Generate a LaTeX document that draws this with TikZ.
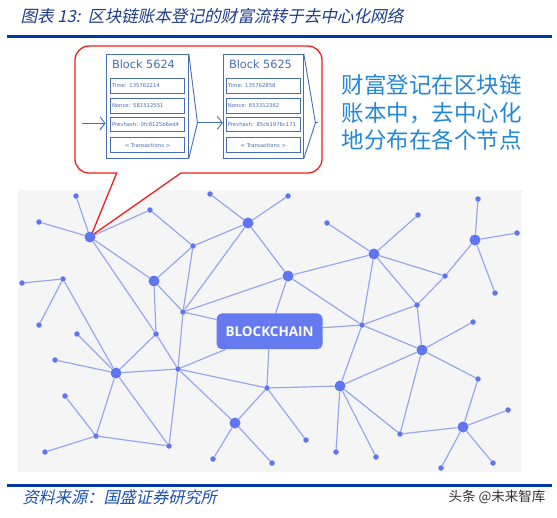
\documentclass[tikz,border=0pt]{standalone}
\usepackage{fontspec}
\usetikzlibrary{arrows.meta}
\newfontfamily\cjk{Noto Sans CJK SC}
\newfontfamily\cjkit[FakeSlant=0.22]{Noto Sans CJK SC}
\newfontfamily\blockfont{DejaVu Sans}
\newfontfamily\chainfont{Open Sans}
\definecolor{title_blue}{RGB}{30, 60, 140}
\definecolor{rule_blue}{RGB}{0, 56, 168}
\definecolor{src_blue}{RGB}{25, 80, 175}
\definecolor{note_blue}{RGB}{35, 135, 215}
\definecolor{blk_blue}{RGB}{70, 110, 180}
\definecolor{net_node}{RGB}{95, 118, 240}
\definecolor{net_edge}{RGB}{152, 166, 240}
\definecolor{chain_fill}{RGB}{100, 122, 238}
\definecolor{call_red}{RGB}{240, 30, 30}
\definecolor{panel_grey}{RGB}{245, 245, 246}
\tikzstyle{bn}=[circle,fill=net_node,inner sep=0pt,minimum size=11pt]
\tikzstyle{sn}=[circle,fill=net_node,inner sep=0pt,minimum size=5.5pt]
\tikzstyle{edge}=[draw=net_edge,line width=1.2pt]
\tikzstyle{blk}=[draw=blk_blue,line width=0.9pt,inner sep=0pt]
\tikzstyle{fld}=[draw=blk_blue,line width=1pt,inner xsep=1.3pt,inner ysep=0pt,
  minimum width=73.6pt,minimum height=15pt,text width=71pt,align=left,
  text=blk_blue,font=\blockfont\fontsize{5.3}{6}\selectfont]
\tikzstyle{arr}=[draw=blk_blue,line width=0.9pt,-{Straight Barb[length=5pt,width=13pt]}]
\tikzstyle{none}=[]

\begin{document}
\begin{tikzpicture}[x=1pt,y=-1pt]
            \useasboundingbox[fill=white] (0,0) rectangle (557,517);
            % title and rules
            \node [anchor=west,text=title_blue,font=\cjkit\fontsize{16.6}{17}\selectfont] (t) at (17,16) {图表 13:\ \ 区块链账本登记的财富流转于去中心化网络};
            \draw [rule_blue,line width=3pt] (7,36) -- (552,36);
            \draw [rule_blue,line width=3pt] (7,485.7) -- (552,485.7);
            \node [anchor=west,text=src_blue,font=\cjkit\fontsize{16.2}{17}\selectfont] (s) at (19,497) {资料来源：国盛证券研究所};
            \node [anchor=east,text=black!80,font=\cjk\fontsize{13.5}{14}\selectfont] (w) at (549,497) {头条 @未来智库};
            % network panel
            \fill [panel_grey] (18,190) rectangle (522,472);
            % callout
            \coordinate (tip) at (91,236);
            \draw [call_red,line width=1.3pt,fill=white] (tip) -- (116.7,173)
              [rounded corners=14pt] -- (75,173) -- (75,46) -- (322,46) -- (322,173)
              [sharp corners] -- (181,173) -- cycle;
            % blocks
            \node [blk,minimum width=82.3pt,minimum height=104.3pt] (b1) at (147.15,106.15) {};
            \node [blk,minimum width=80pt,minimum height=104.3pt] (b2) at (263.3,106.15) {};
            \draw [blk_blue,line width=0.9pt] (b1.north east) -- ++(8.7,69.3) coordinate (c1) -- (b1.south east);
            \draw [blk_blue,line width=0.9pt] (b2.north east) -- ++(11.7,69.3) coordinate (c2) -- (b2.south east);
            \node [anchor=west,text=blk_blue,font=\blockfont\fontsize{11.3}{12}\selectfont] (h1) at (108.5,64) {Block 5624};
            \node [anchor=west,text=blk_blue,font=\blockfont\fontsize{11.3}{12}\selectfont] (h2) at (225.5,64) {Block 5625};
            \node [fld] (tm1) at (147.5,85.8) {Time: 135762214};
            \node [fld] (nc1) at (147.5,105.8) {Nonce: 581512551};
            \node [fld,minimum height=14pt] (ph1) at (147.5,124.7) {Prevhash: 0fc8125b6ed4};
            \node [fld,align=center] (tx1) at (147.5,145.2) {< Transactions >};
            \node [fld] (tm2) at (263.3,85.8) {Time: 135762858};
            \node [fld] (nc2) at (263.3,105.8) {Nonce: 653312362};
            \node [fld,minimum height=14pt] (ph2) at (263.3,124.7) {Prevhash: 85cb1976c171};
            \node [fld,align=center] (tx2) at (263.3,145.2) {< Transactions >};
            \coordinate (in) at (81.7,123.3);
            \draw [arr] (in) -- (in -| b1.west);
            \draw [arr] (c1) -- (c1 -| b2.west);
            \draw [blk_blue,line width=0.9pt] (c2) -- ++(2.5,0);
            % note
            \node [anchor=west,text=note_blue,align=left,font=\cjk\fontsize{22.5}{27.5}\selectfont] (n) at (338,112.5) {财富登记在区块链\\账本中，去中心化\\地分布在各个节点};
            % nodes
            \node [style=bn] (0) at (90,237) {};
            \node [style=sn] (1) at (76,196) {};
            \node [style=sn] (2) at (39,222) {};
            \node [style=sn] (3) at (150,210) {};
            \node [style=sn] (4) at (193,246) {};
            \node [style=bn] (5) at (248,223) {};
            \node [style=sn] (6) at (210,194) {};
            \node [style=bn] (7) at (154,281) {};
            \node [style=sn] (8) at (183,312) {};
            \node [style=sn] (9) at (63,279) {};
            \node [style=sn] (10) at (22,283) {};
            \node [style=sn] (11) at (39,325) {};
            \node [style=sn] (12) at (156,334) {};
            \node [style=bn] (13) at (116,373) {};
            \node [style=sn] (14) at (77,334) {};
            \node [style=sn] (15) at (55,360) {};
            \node [style=sn] (16) at (178,369) {};
            \node [style=sn] (17) at (96,436) {};
            \node [style=sn] (18) at (65,396) {};
            \node [style=sn] (19) at (45,452) {};
            \node [style=sn] (20) at (169,446) {};
            \node [style=bn] (21) at (235,423) {};
            \node [style=sn] (22) at (213,459) {};
            \node [style=sn] (23) at (272,463) {};
            \node [style=sn] (24) at (267,388) {};
            \node [style=bn] (25) at (288,276) {};
            \node [style=sn] (26) at (288,196) {};
            \node [style=bn] (27) at (374,254) {};
            \node [style=sn] (28) at (327,223) {};
            \node [style=sn] (29) at (418,215) {};
            \node [style=sn] (30) at (445,276) {};
            \node [style=bn] (31) at (475,240) {};
            \node [style=sn] (32) at (478,199) {};
            \node [style=sn] (33) at (517,233) {};
            \node [style=sn] (34) at (495,293) {};
            \node [style=sn] (35) at (417,305) {};
            \node [style=sn] (36) at (362,325) {};
            \node [style=bn] (37) at (422,350) {};
            \node [style=sn] (38) at (473,322) {};
            \node [style=bn] (39) at (340,386) {};
            \node [style=sn] (40) at (306,440) {};
            \node [style=sn] (41) at (336,452) {};
            \node [style=sn] (42) at (376,457) {};
            \node [style=sn] (43) at (478,379) {};
            \node [style=bn] (44) at (463,427) {};
            \node [style=sn] (45) at (508,410) {};
            \node [style=sn] (46) at (441,468) {};
            \node [style=sn] (47) at (493,463) {};
            \node [style=sn] (48) at (400,434) {};
            \node [fill=chain_fill,rounded corners=5pt,minimum width=105.8pt,minimum height=35.7pt,
              text=white,font=\chainfont\bfseries\fontsize{13.5}{14}\selectfont] (49) at (269.6,331.3) {BLOCKCHAIN};
            % edges
            \draw [style=edge] (0) to (1);
            \draw [style=edge] (0) to (2);
            \draw [style=edge] (0) to (3);
            \draw [style=edge] (0) to (7);
            \draw [style=edge] (0) to (12);
            \draw [style=edge] (3) to (4);
            \draw [style=edge] (4) to (7);
            \draw [style=edge] (4) to (5);
            \draw [style=edge] (4) to (8);
            \draw [style=edge] (7) to (8);
            \draw [style=edge] (7) to (12);
            \draw [style=edge] (8) to (5);
            \draw [style=edge] (8) to (25);
            \draw [style=edge] (8) to (49);
            \draw [style=edge] (8) to (16);
            \draw [style=edge] (9) to (10);
            \draw [style=edge] (9) to (11);
            \draw [style=edge] (9) to (13);
            \draw [style=edge] (12) to (13);
            \draw [style=edge] (12) to (16);
            \draw [style=edge] (13) to (14);
            \draw [style=edge] (13) to (15);
            \draw [style=edge] (13) to (16);
            \draw [style=edge] (13) to (17);
            \draw [style=edge] (13) to (20);
            \draw [style=edge] (16) to (20);
            \draw [style=edge] (16) to (21);
            \draw [style=edge] (16) to (24);
            \draw [style=edge] (16) to (49);
            \draw [style=edge] (17) to (18);
            \draw [style=edge] (17) to (19);
            \draw [style=edge] (17) to (20);
            \draw [style=edge] (21) to (22);
            \draw [style=edge] (21) to (23);
            \draw [style=edge] (21) to (24);
            \draw [style=edge] (24) to (39);
            \draw [style=edge] (24) to (40);
            \draw [style=edge] (24) to (49);
            \draw [style=edge] (5) to (6);
            \draw [style=edge] (5) to (26);
            \draw [style=edge] (5) to (25);
            \draw [style=edge] (25) to (27);
            \draw [style=edge] (25) to (36);
            \draw [style=edge] (25) to (49);
            \draw [style=edge] (27) to (28);
            \draw [style=edge] (27) to (29);
            \draw [style=edge] (27) to (30);
            \draw [style=edge] (27) to (35);
            \draw [style=edge] (27) to (36);
            \draw [style=edge] (30) to (31);
            \draw [style=edge] (31) to (32);
            \draw [style=edge] (31) to (33);
            \draw [style=edge] (31) to (34);
            \draw [style=edge] (35) to (30);
            \draw [style=edge] (35) to (36);
            \draw [style=edge] (35) to (37);
            \draw [style=edge] (36) to (49);
            \draw [style=edge] (36) to (37);
            \draw [style=edge] (36) to (39);
            \draw [style=edge] (37) to (38);
            \draw [style=edge] (37) to (43);
            \draw [style=edge] (37) to (48);
            \draw [style=edge] (37) to (39);
            \draw [style=edge] (43) to (44);
            \draw [style=edge] (44) to (45);
            \draw [style=edge] (44) to (46);
            \draw [style=edge] (44) to (47);
            \draw [style=edge] (44) to (48);
            \draw [style=edge] (39) to (48);
            \draw [style=edge] (39) to (41);
            \draw [style=edge] (39) to (42);
    \end{tikzpicture}
\end{document}
